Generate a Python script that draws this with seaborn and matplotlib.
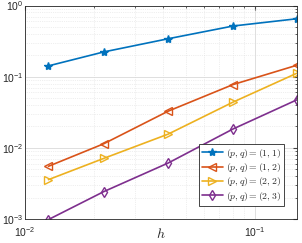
import pandas as pd
import matplotlib
matplotlib.use('Agg')
import matplotlib.pyplot as plt
import seaborn as sns

h = [0.01264, 0.0220, 0.0420, 0.0804, 0.1525]
err_11 = [0.142, 0.223, 0.342, 0.516, 0.653]
err_12 = [0.0055, 0.0114, 0.0328, 0.0775, 0.145]
err_22 = [0.00357, 0.0071, 0.0156, 0.0439, 0.112]
err_23 = [0.00098, 0.00242, 0.00612, 0.0184, 0.0473]

labels = [r'$(p,q)=(1,1)$', r'$(p,q)=(1,2)$', r'$(p,q)=(2,2)$', r'$(p,q)=(2,3)$']
colors = ['#0072BD', '#D95319', '#EDB120', '#7E2F8E']
markers = ['*', '<', '>', 'd']

sns.set_style("whitegrid")
plt.rcParams['mathtext.fontset'] = 'cm'
plt.rcParams['font.family'] = ['Liberation Sans', 'DejaVu Sans']

fig = plt.figure(figsize=(3.02, 2.43), dpi=100)
ax = fig.add_axes([0.083, 0.099, 0.900, 0.878])

for err, lab, c, m in zip([err_11, err_12, err_22, err_23], labels, colors, markers):
    df = pd.DataFrame({'h': h, 'err': err})
    filled = m == '*'
    sns.lineplot(x='h', y='err', data=df, ax=ax, color=c, marker=m, label=lab,
                 markersize=6 if m != 'd' else 5,
                 markerfacecolor=c if filled else 'none',
                 markeredgecolor=c, markeredgewidth=1.0, linewidth=1.2)

ax.set_xscale('log')
ax.set_yscale('log')
ax.set_xlim(0.01, 0.1525)
ax.set_ylim(1e-3, 1)
ax.set_xlabel(r'$h$', fontsize=10, labelpad=-8.5)
ax.set_ylabel('')

ax.grid(True, which='major', color='#d9d9d9', linewidth=0.6, linestyle='-')
ax.grid(True, which='minor', color='#e0e0e0', linewidth=0.5, linestyle=':')
ax.tick_params(which='both', direction='in', top=True, right=True, labelsize=7.5,
               color='#444444', pad=1)
ax.tick_params(axis='x', which='both', pad=4.5)
ax.tick_params(which='major', length=3)
ax.tick_params(which='minor', length=1.5)
for s in ax.spines.values():
    s.set_color('#262626')
    s.set_linewidth(0.6)

leg = ax.legend(loc='lower right', fontsize=7, frameon=True, fancybox=False,
                edgecolor='#262626', framealpha=1, borderpad=0.3, labelspacing=0.15,
                handlelength=2.2, handletextpad=0.3, borderaxespad=1.35)
leg.get_frame().set_linewidth(0.6)

fig.savefig('out.png', dpi=100)
